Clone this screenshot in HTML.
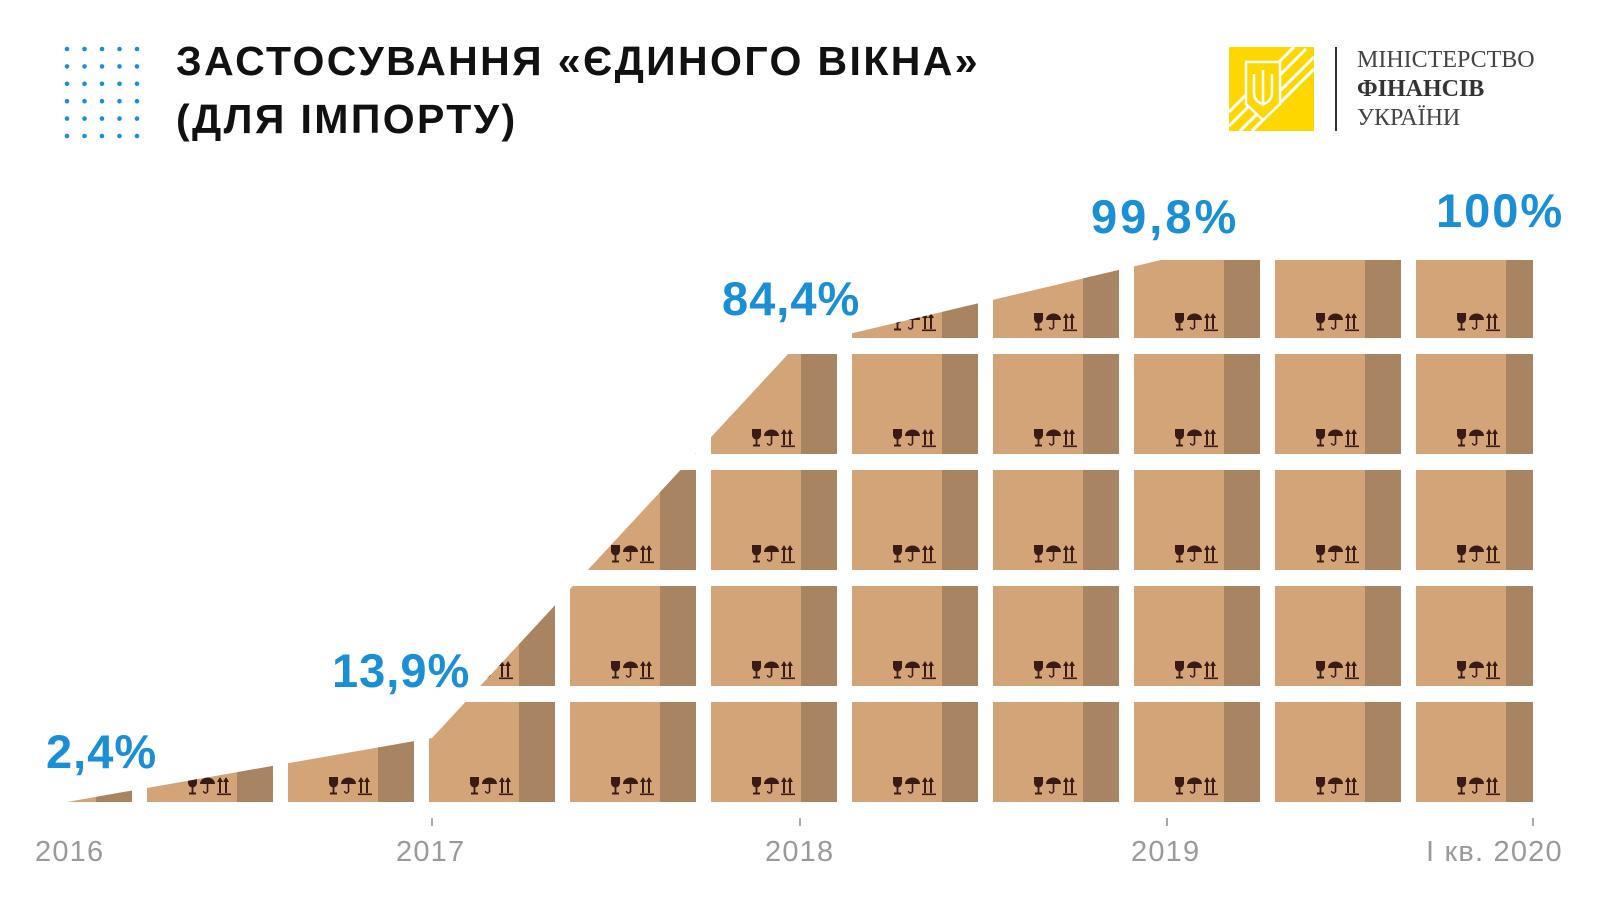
<!DOCTYPE html>
<html><head><meta charset="utf-8">
<style>
html,body{margin:0;padding:0;background:#fff;}
body{width:1600px;height:900px;position:relative;overflow:hidden;font-family:"Liberation Sans",sans-serif;}
.t{position:absolute;white-space:nowrap;}
.title{left:176px;font-weight:bold;font-size:41px;color:#111;letter-spacing:2.4px;}
.pct{font-weight:bold;color:#1a8fd6;font-size:47px;letter-spacing:1px;}
.ax{color:#9a9a9a;font-size:29px;top:836px;letter-spacing:1.2px;}
.lg{font-family:"Liberation Serif",serif;font-size:24px;color:#444;left:1357px;}
</style></head><body>
<svg width="1600" height="900" style="position:absolute;left:0;top:0">
<defs>
<clipPath id="env"><polygon points="67,802 432,738 790,352 853,333 1165,259 1540,259 1540,810 67,810"/></clipPath>
<g id="ic" fill="#3a1a14">
<path d="M0,0 h9 v6 a4.5,4.5 0 0 1 -9,0z"/><rect x="3.6" y="9" width="1.8" height="7"/><rect x="1" y="15.5" width="7" height="2"/>
<path d="M12,7 a7.5,6.5 0 0 1 15,0z"/><rect x="18.7" y="2" width="1.6" height="13"/><path d="M19.5,14 a2,2 0 0 1 -4,0" fill="none" stroke="#3a1a14" stroke-width="1.4"/>
<path d="M31,16 v-11 h-2 l3,-5 l3,5 h-2 v11z M37,16 v-11 h-2 l3,-5 l3,5 h-2 v11z"/><rect x="29" y="16.5" width="14" height="1.6"/>
</g>
</defs>
<g id="boxes" clip-path="url(#env)"></g>
<g fill="#1a8fd6" id="dots"></g>
<g stroke="#aaa" stroke-width="2"><line x1="432" y1="818" x2="432" y2="826"/><line x1="800" y1="818" x2="800" y2="826"/><line x1="1167" y1="818" x2="1167" y2="826"/><line x1="1533" y1="818" x2="1533" y2="826"/></g>
<rect x="1229" y="47" width="85" height="84" fill="#ffd700"/>
<g stroke="#fff" stroke-width="3"><line x1="1240" y1="131" x2="1314" y2="57"/><line x1="1229" y1="126" x2="1306" y2="49"/><line x1="1252" y1="131" x2="1314" y2="69"/><line x1="1229" y1="112" x2="1294" y2="47"/></g>
<path d="M1246,62 h34 v42 l-17,16 l-17,-16z" fill="#ffd700" stroke="#fff" stroke-width="2.5"/>
<path d="M1263,70 v36 M1254,74 v18 q0,10 9,12 q9,-2 9,-12 v-18" fill="none" stroke="#fff" stroke-width="2.5"/>
<line x1="1336" y1="47" x2="1336" y2="131" stroke="#333" stroke-width="2"/>
</svg>
<script>
(function(){
var g=document.getElementById('boxes'),h='';
var tops=[[702,100],[586,100],[470,100],[354,100],[260,78]];
for(var i=0;i<11;i++){var x=6+141*i,w=(i==10?117:126),d=(i==10?27:36);
 for(var r=0;r<5;r++){var y=tops[r][0],hh=tops[r][1];
  h+='<rect x="'+x+'" y="'+y+'" width="'+w+'" height="'+hh+'" fill="#d4a479"/>';
  h+='<rect x="'+(x+w-d)+'" y="'+y+'" width="'+d+'" height="'+hh+'" fill="#a98462"/>';
  h+='<use href="#ic" x="'+(x+w-d-49)+'" y="'+(y+hh-25)+'"/>';}}
g.innerHTML=h;
var dd='';for(var c=0;c<5;c++)for(var r2=0;r2<6;r2++)dd+='<circle cx="'+(67+17.5*c)+'" cy="'+(49+17.4*r2)+'" r="2.3"/>';
document.getElementById('dots').innerHTML=dd;
})();
</script>
<div class="t title" style="top:38px">ЗАСТОСУВАННЯ «ЄДИНОГО ВІКНА»</div>
<div class="t title" style="top:96px">(ДЛЯ ІМПОРТУ)</div>
<div class="t pct" style="left:46px;top:724px">2,4%</div>
<div class="t pct" style="left:332px;top:643px">13,9%</div>
<div class="t pct" style="left:722px;top:271px">84,4%</div>
<div class="t pct" style="left:1091px;top:189px;letter-spacing:3px">99,8%</div>
<div class="t pct" style="left:1436px;top:183px;letter-spacing:2px">100%</div>
<div class="t ax" style="left:35px">2016</div>
<div class="t ax" style="left:396px">2017</div>
<div class="t ax" style="left:765px">2018</div>
<div class="t ax" style="left:1131px">2019</div>
<div class="t ax" style="left:1426px">І кв. 2020</div>
<div class="t lg" style="top:47px">МІНІСТЕРСТВО</div>
<div class="t lg" style="top:76px;font-weight:bold;color:#333">ФІНАНСІВ</div>
<div class="t lg" style="top:105px">УКРАЇНИ</div>
</body></html>
